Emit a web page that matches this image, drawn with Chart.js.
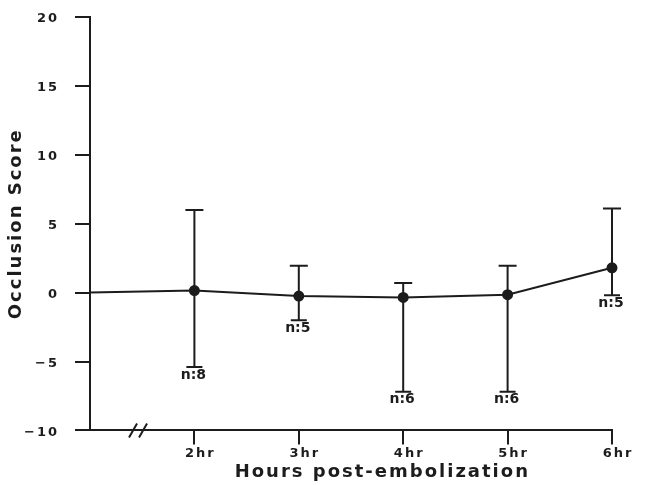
<!DOCTYPE html>
<html>
<head>
<meta charset="utf-8">
<script src="https://cdn.jsdelivr.net/npm/chart.js@4.4.0/dist/chart.umd.min.js"></script>
<style>
html, body { margin: 0; padding: 0; background: #fff; }
#wrap { width: 657px; height: 485px; }
</style>
</head>
<body>
<div id="wrap"><canvas id="grafica"></canvas></div>
<script>
// Categorias del eje x (la primera es la linea base, pegada al eje y)
var horas = ['', '2hr', '3hr', '4hr', '5hr', '6hr'];
// Puntuacion media de oclusion
var medias = [0, 0.15, -0.25, -0.35, -0.15, 1.8];
// Limites de las barras de error
var errSup = [null, 6.0, 1.95, 0.7, 1.95, 6.1];
var errInf = [null, -5.4, -2.0, -7.2, -7.2, -0.2];
// Tamaño de muestra
var etiquetasN = ['', 'n:8', 'n:5', 'n:6', 'n:6', 'n:5'];
// Marcas del eje y
var ticksY = [-10, -5, 0, 5, 10, 15, 20];

var tinta = '#1c1c1c';
var fuente = '"DejaVu Sans", sans-serif';
var tituloX = 'Hours post-embolization';

// Espaciado de letras para todo el texto (como el original)
var espaciado = {
    id: 'espaciado',
    beforeLayout: function(chart) {
        chart.ctx.letterSpacing = '2px';
    },
    beforeDraw: function(chart) {
        chart.ctx.letterSpacing = '2px';
    }
};

// Barras de error, etiquetas n, corte del eje x y titulo del eje x
var barrasError = {
    id: 'barrasError',
    afterDatasetsDraw: function(chart) {
        var ctx = chart.ctx;
        var x = chart.scales.x;
        var y = chart.scales.y;
        ctx.save();
        ctx.strokeStyle = tinta;
        ctx.fillStyle = tinta;
        ctx.lineWidth = 2;
        ctx.letterSpacing = '0px';
        ctx.font = 'bold 14px ' + fuente;
        ctx.textAlign = 'center';
        ctx.textBaseline = 'top';
        for (var i = 0; i < horas.length; i++) {
            if (errSup[i] === null) continue;
            var px = x.getPixelForValue(i);
            var yt = y.getPixelForValue(errSup[i]);
            var yb = y.getPixelForValue(errInf[i]);
            ctx.beginPath();
            ctx.moveTo(px, yt); ctx.lineTo(px, yb);
            ctx.moveTo(px - 9, yt); ctx.lineTo(px + 9, yt);
            ctx.moveTo(px - 8, yb); ctx.lineTo(px + 8, yb);
            ctx.stroke();
            ctx.fillText(etiquetasN[i], px - 1, yb + 1);
        }
        // corte del eje x entre la linea base y 2hr
        var bx = x.getPixelForValue(0.46);
        var by = chart.chartArea.bottom;
        ctx.beginPath();
        ctx.moveTo(bx - 9, by + 7); ctx.lineTo(bx - 1, by - 7);
        ctx.moveTo(bx + 1, by + 7); ctx.lineTo(bx + 9, by - 7);
        ctx.stroke();
        // titulo del eje x (algo desplazado a la derecha, como el original)
        ctx.letterSpacing = '2px';
        ctx.font = 'bold 18px ' + fuente;
        ctx.textBaseline = 'middle';
        ctx.fillText(tituloX, x.getPixelForValue(2.8), chart.height - 13);
        ctx.restore();
    }
};

var ctxGrafica = document.getElementById('grafica').getContext('2d');
var myChart = new Chart(ctxGrafica, {
    type: 'line',
    data: {
        labels: horas,
        datasets: [{
            data: medias,
            borderColor: tinta,
            borderWidth: 2,
            tension: 0,
            pointRadius: [0, 4.5, 4.5, 4.5, 4.5, 4.5],
            pointBackgroundColor: tinta,
            pointBorderColor: tinta
        }]
    },
    options: {
        responsive: true,
        maintainAspectRatio: false,
        animation: false,
        layout: { padding: { left: 6, right: 45, top: 17, bottom: 23 } },
        plugins: {
            legend: { display: false },
            tooltip: { enabled: false }
        },
        scales: {
            x: {
                type: 'category',
                offset: false,
                grid: {
                    drawOnChartArea: false,
                    drawTicks: true,
                    tickLength: 14,
                    lineWidth: 2,
                    color: function(c) { return c.index === 0 ? 'rgba(0,0,0,0)' : tinta; }
                },
                border: { color: tinta, width: 2 },
                ticks: {
                    color: tinta,
                    font: { family: fuente, size: 13, weight: 'bold' },
                    padding: 1,
                    labelOffset: 6,
                    maxRotation: 0,
                    autoSkip: false
                },
                title: { display: false }
            },
            y: {
                min: ticksY[0],
                max: ticksY[ticksY.length - 1],
                afterBuildTicks: function(axis) {
                    axis.ticks = ticksY.map(function(v) { return { value: v }; });
                },
                afterFit: function(axis) {
                    axis.width = 84;
                    axis.paddingTop = 0;
                    axis.paddingBottom = 0;
                },
                grid: {
                    drawOnChartArea: false,
                    drawTicks: true,
                    tickLength: 15,
                    lineWidth: 2,
                    color: tinta
                },
                border: { color: tinta, width: 2 },
                ticks: {
                    color: tinta,
                    font: { family: fuente, size: 13, weight: 'bold' },
                    padding: 16,
                    labelOffset: 2,
                    callback: function(v) { return v < 0 ? '\u2212' + Math.abs(v) : String(v); }
                },
                title: {
                    display: true,
                    text: 'Occlusion Score',
                    color: tinta,
                    font: { family: fuente, size: 18, weight: 'bold' },
                    padding: { top: 0, bottom: 0 }
                }
            }
        }
    },
    plugins: [espaciado, barrasError]
});
</script>
</body>
</html>
